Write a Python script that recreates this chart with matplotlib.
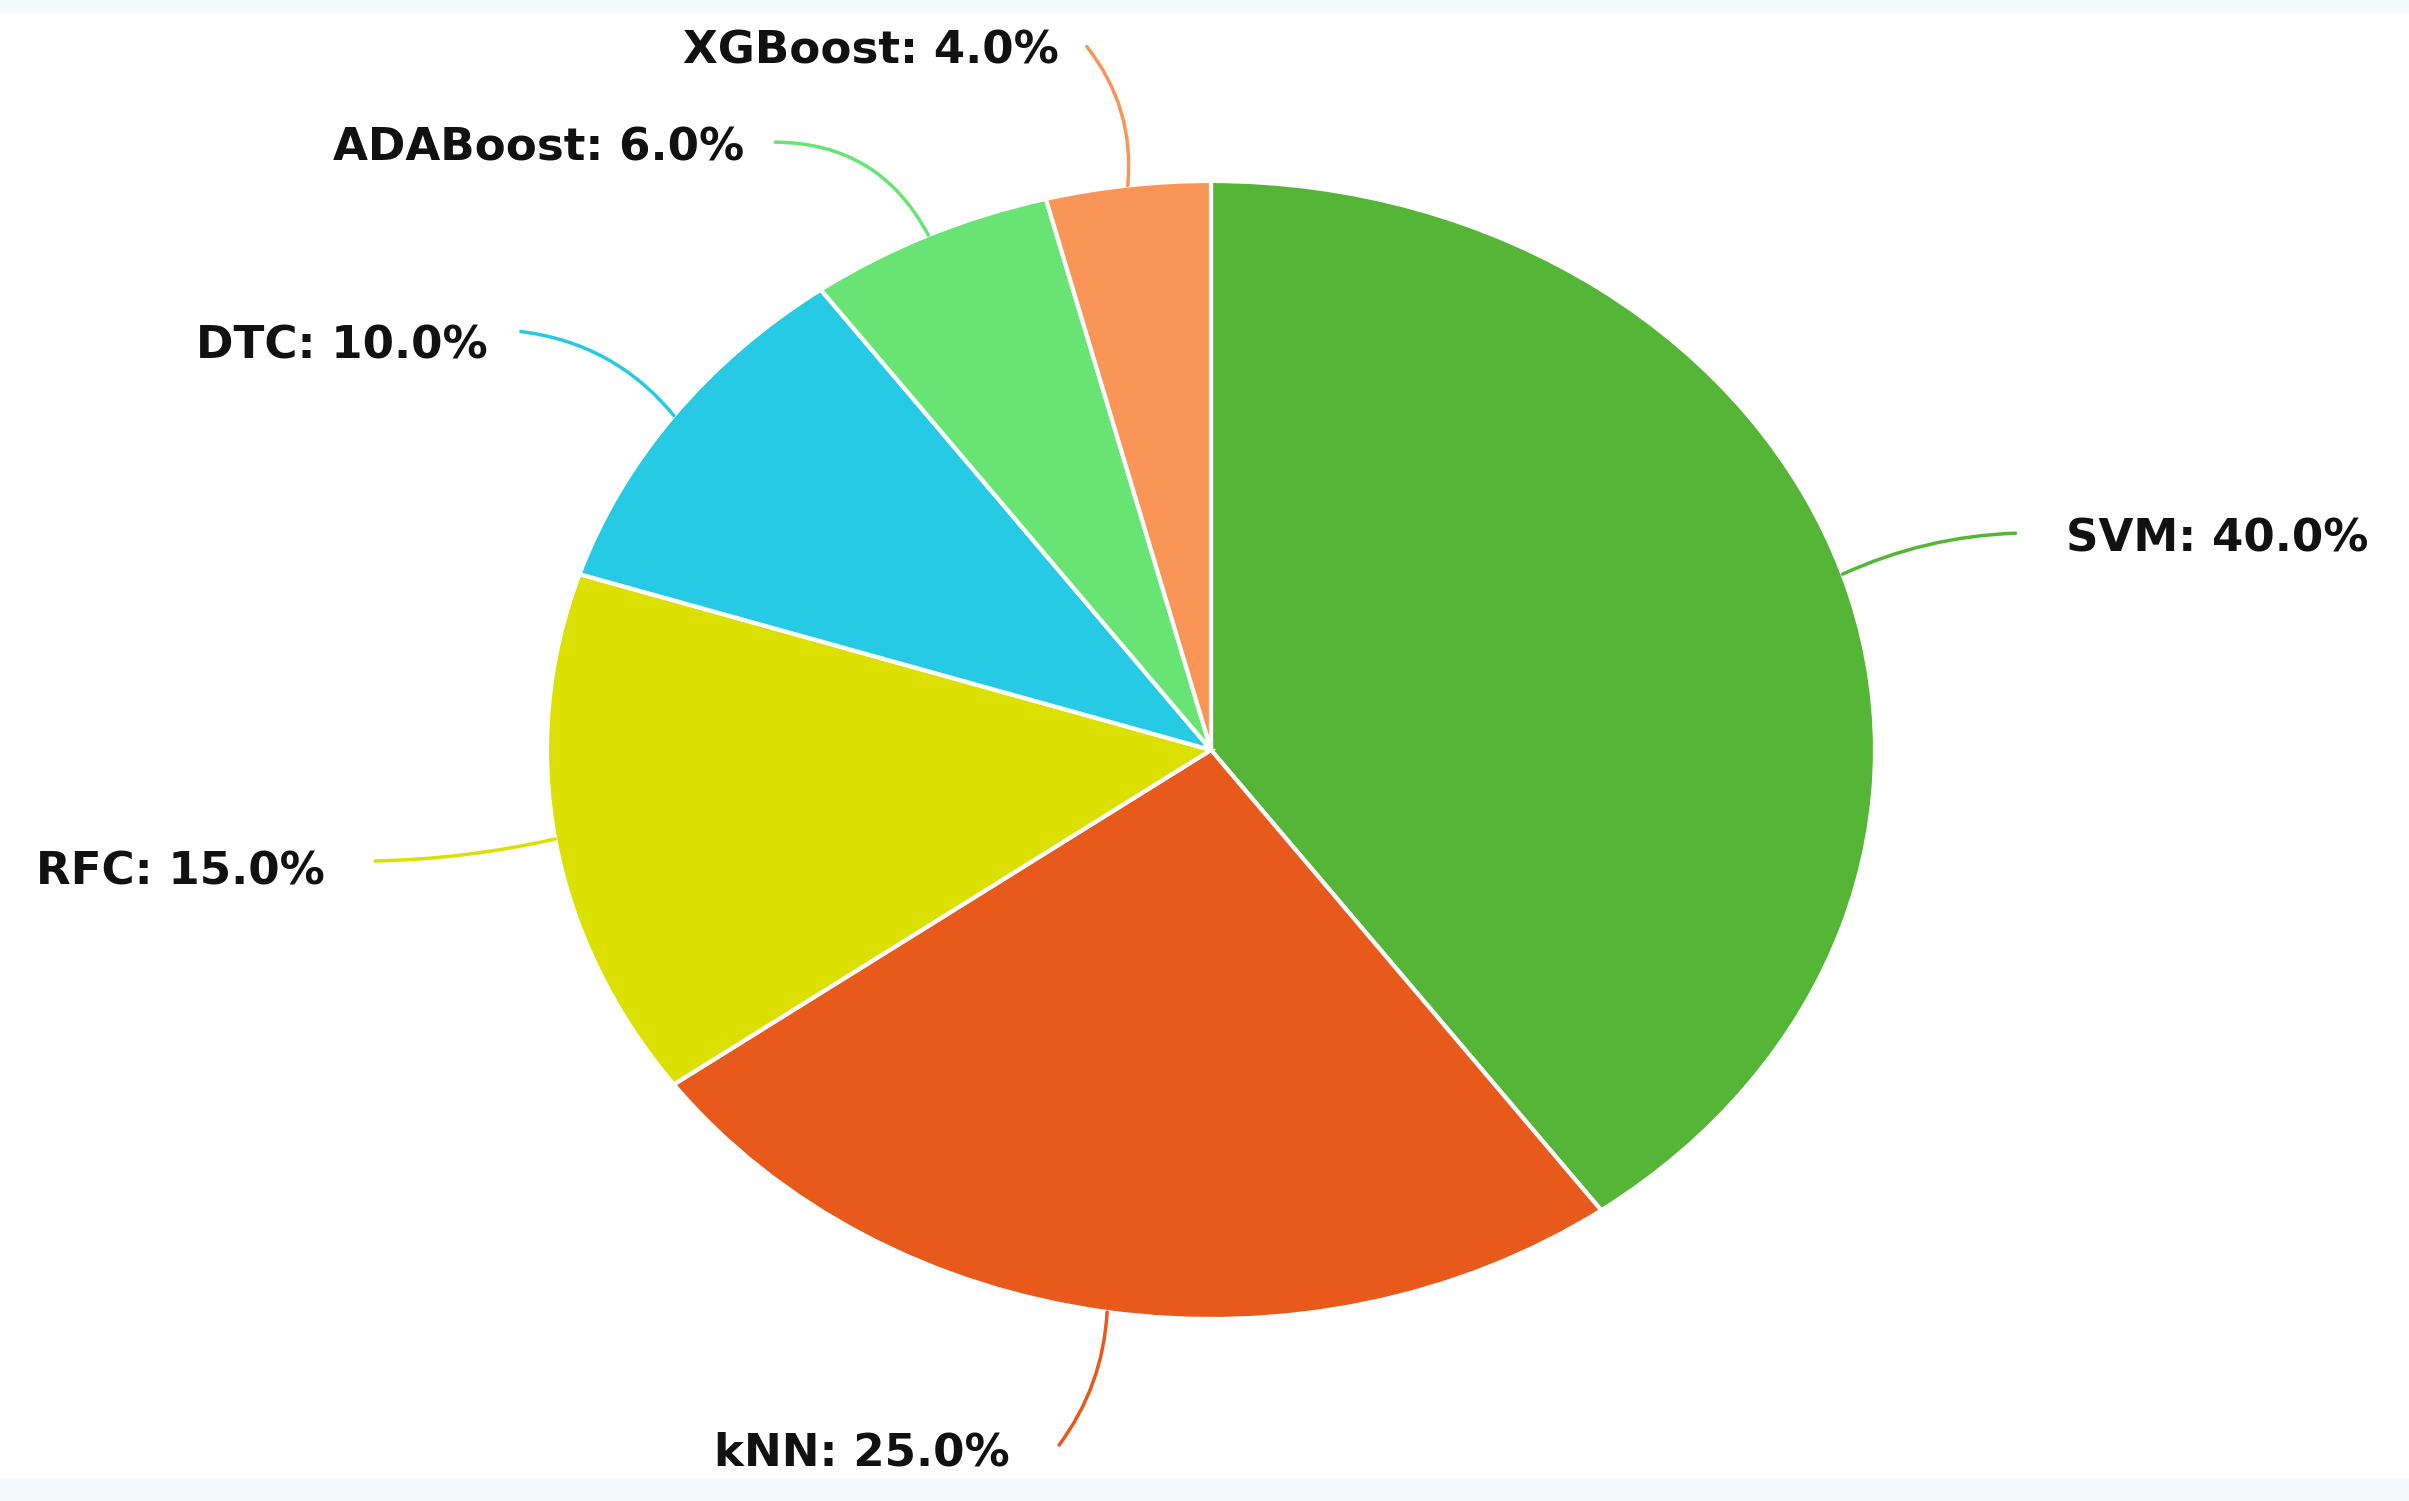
import matplotlib.pyplot as plt
import numpy as np

labels = ["SVM", "kNN", "RFC", "DTC", "ADABoost", "XGBoost"]
shares = [40.0, 25.0, 15.0, 10.0, 6.0, 4.0]
colors = ["#55b536", "#e8591c", "#dce000", "#26cae4", "#68e474", "#f99556"]

# leader line end, offset from the wedge edge in pixels (y up), and curvature
line_offsets = [(173, 41), (-48, -133), (-180, -22), (-153, 84), (-153, 93), (-41, 139)]
line_rads = [0.1, 0.15, 0.05, -0.2, -0.3, -0.2]
text_gaps = [50, 50, 50, 33, 31, 28]
text_drops = [6, 8, 11, 14, 6, 5]

W, H = 2409, 1501
fig = plt.figure(figsize=(W / 100, H / 100), dpi=100)
ax = fig.add_axes([0, 0, 1, 1])

# pie centre and radii in pixels (the original is stretched sideways)
cx, cy = 1211, 750
rx, ry = 664, 569

wedges, _ = ax.pie(shares, colors=colors, startangle=90, counterclock=False,
                   wedgeprops=dict(edgecolor="white", linewidth=3))
ax.set_aspect("auto")
ax.set_xlim(-cx / rx, (W - cx) / rx)
ax.set_ylim(-(H - cy) / ry, cy / ry)
ax.axis("off")

# faint tinted strips along the top and bottom edges
ax.axhspan(cy / ry - 12 / ry, cy / ry, color="#f3fbfc", zorder=0)
ax.axhspan(-(H - cy) / ry, -(H - cy) / ry + 22 / ry, color="#f3fbfc", zorder=0)

for w, lab, val, col, off, rad, gap, drop in zip(
        wedges, labels, shares, colors, line_offsets, line_rads, text_gaps, text_drops):
    ang = np.deg2rad((w.theta1 + w.theta2) / 2)
    ex, ey = np.cos(ang), np.sin(ang)
    lx, ly = ex + off[0] / rx, ey + off[1] / ry
    ax.annotate("", xy=(ex, ey), xytext=(lx, ly),
                arrowprops=dict(arrowstyle="-", color=col, lw=2.5,
                                shrinkA=0, shrinkB=0,
                                connectionstyle=f"arc3,rad={rad}"))
    right = off[0] > 0
    tx = lx + (gap if right else -gap) / rx
    ty = ly - drop / ry
    ax.text(tx, ty, f"{lab}: {val:.1f}%", ha="left" if right else "right",
            va="center", fontsize=32.5, fontweight="bold", color="#111111",
            family="DejaVu Sans")

fig.savefig("out.png", dpi=100, facecolor="white")
